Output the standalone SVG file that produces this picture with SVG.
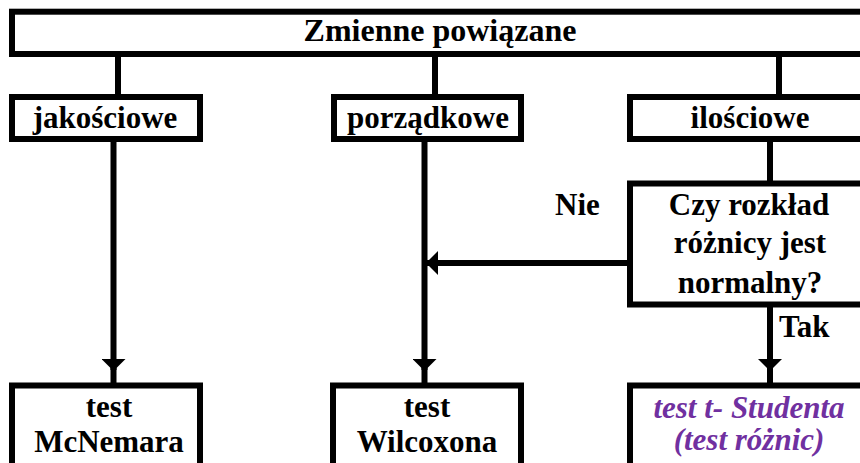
<svg xmlns="http://www.w3.org/2000/svg" width="860" height="463" viewBox="0 0 860 463">
<style>
.box{fill:#fff;stroke:#000;stroke-width:6}
.t{font-family:"Liberation Serif","Times New Roman",serif;font-weight:bold;font-size:31px;fill:#000;text-anchor:middle}
.l{text-anchor:start}
.p{fill:#7030A0;font-style:italic}
.c{stroke:#000;stroke-width:6;fill:none}
</style>
<defs>
<marker id="ah" markerUnits="userSpaceOnUse" viewBox="0 0 12 24" refX="11" refY="12" markerWidth="12" markerHeight="24" orient="auto">
<path d="M0,0 L12,12 L0,24 Z" fill="#000"/>
</marker>
</defs>
<rect width="860" height="463" fill="#fff"/>
<g id="connectors">
<line class="c" x1="118" y1="54" x2="118" y2="97"/>
<line class="c" x1="435" y1="54" x2="435" y2="97"/>
<line class="c" x1="779" y1="54" x2="779" y2="97"/>
<line class="c" x1="770" y1="139" x2="770" y2="184"/>
<path class="c" d="M113.5 139 V370" marker-end="url(#ah)"/>
<line class="c" x1="113.5" y1="368" x2="113.5" y2="386"/>
<path class="c" d="M424.5 139 V370" marker-end="url(#ah)"/>
<line class="c" x1="424.5" y1="368" x2="424.5" y2="386"/>
<path class="c" d="M770 304 V370" marker-end="url(#ah)"/>
<line class="c" x1="770" y1="368" x2="770" y2="386"/>
<path class="c" d="M630 263 H427" marker-end="url(#ah)"/>
</g>
<g id="top">
<rect class="box" x="12" y="11.7" width="860" height="42.3"/>
<text class="t" x="440" y="41" style="font-size:32px">Zmienne powiązane</text>
</g>
<g id="jakosciowe">
<rect class="box" x="12" y="97" width="188" height="42"/>
<text class="t" x="105" y="128">jakościowe</text>
</g>
<g id="porzadkowe">
<rect class="box" x="334" y="97" width="187" height="42"/>
<text class="t" x="428" y="128">porządkowe</text>
</g>
<g id="ilosciowe">
<rect class="box" x="630" y="97" width="240" height="42"/>
<text class="t" x="750" y="128">ilościowe</text>
</g>
<g id="decision">
<rect class="box" x="630" y="183.5" width="240" height="121"/>
<text class="t" x="749" y="215">Czy rozkład</text>
<text class="t" x="750" y="253">różnicy jest</text>
<text class="t" x="750" y="293">normalny?</text>
</g>
<g id="label-nie">
<text class="t l" x="555" y="215">Nie</text>
</g>
<g id="label-tak">
<text class="t l" x="779" y="337">Tak</text>
</g>
<g id="mcnemara">
<rect class="box" x="12" y="385.5" width="188" height="90"/>
<text class="t" x="109" y="417">test</text>
<text class="t" x="109" y="452">McNemara</text>
</g>
<g id="wilcoxon">
<rect class="box" x="333" y="385.5" width="188" height="90"/>
<text class="t" x="427" y="417">test</text>
<text class="t" x="427" y="452">Wilcoxona</text>
</g>
<g id="student">
<rect class="box" x="630" y="385.5" width="240" height="90"/>
<text class="t p" x="749" y="418">test t- Studenta</text>
<text class="t p" x="749" y="450">(test różnic)</text>
</g>
</svg>
